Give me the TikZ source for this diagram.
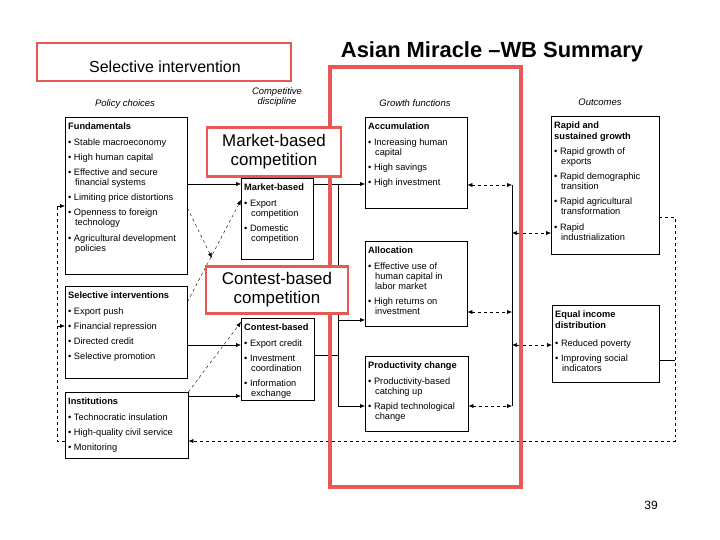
\documentclass[tikz,border=0pt]{standalone}
\usepackage{fontspec}
\setmainfont{Liberation Sans}
\usetikzlibrary{arrows.meta}
\definecolor{slidered}{RGB}{232,88,84}
\newcommand{\bul}{\textbullet\ }
\newcommand{\ind}{\hspace*{0.75em}}
\newcommand{\nx}{\\[5pt]}
\newcommand{\topbox}[3]{\parbox[t][#2][t]{#1}{#3}}
\tikzset{
  box/.style={draw, thin, anchor=north west, align=left, inner xsep=3pt, inner ysep=6pt,
    font=\fontsize{9.3}{10.2}\selectfont},
  head/.style={font=\itshape\fontsize{9.5}{10.5}\selectfont, align=center},
  overlay/.style={draw=slidered, line width=2.5pt, fill=white, align=center,
    font=\fontsize{17}{19}\selectfont},
  arr/.style={-{Latex[length=5pt,width=4pt]}},
  darr/.style={{Latex[length=5pt,width=4pt]}-{Latex[length=5pt,width=4pt]}, dashed}
}
\begin{document}
\begin{tikzpicture}[x=1bp, y=-1bp]
  \useasboundingbox (0,0) rectangle (720,540);
  % column headings
  \node[head] (hpol) at (125,104) {Policy choices};
  \node[head] (hcomp) at (277,97) {Competitive\\discipline};
  \node[head] (hgro) at (415,103) {Growth functions};
  \node[head] (hout) at (600,102) {Outcomes};
  % policy boxes
  \node[box] (fund) at (65,117) {\topbox{116bp}{145bp}{\textbf{Fundamentals}\nx
    \bul Stable macroeconomy\nx \bul High human capital\nx \bul Effective and secure\\ \ind financial systems\nx
    \bul Limiting price distortions\nx \bul Openness to foreign\\ \ind technology\nx
    \bul Agricultural development\\ \ind policies}};
  \node[box] (sel) at (65,286) {\topbox{116bp}{80bp}{\textbf{Selective interventions}\nx
    \bul Export push\nx \bul Financial repression\nx \bul Directed credit\nx \bul Selective promotion}};
  \node[box] (inst) at (65,392) {\topbox{117bp}{54bp}{\textbf{Institutions}\nx
    \bul Technocratic insulation\nx \bul High-quality civil service\nx \bul Monitoring}};
  % competitive discipline
  \node[box] (mkt) at (241,178) {\topbox{66bp}{69bp}{\textbf{Market-based}\nx
    \bul Export\\ \ind competition\nx \bul Domestic\\ \ind competition}};
  \node[box] (con) at (241,318) {\topbox{67bp}{70bp}{\textbf{Contest-based}\nx
    \bul Export credit\nx \bul Investment\\ \ind coordination\nx \bul Information\\ \ind exchange}};
  % growth functions
  \node[box] (acc) at (365,117) {\topbox{96bp}{79bp}{\textbf{Accumulation}\nx
    \bul Increasing human\\ \ind capital\nx \bul High savings\nx \bul High investment}};
  \node[box] (all) at (365,241) {\topbox{96bp}{73bp}{\textbf{Allocation}\nx
    \bul Effective use of\\ \ind human capital in\\ \ind labor market\nx \bul High returns on\\ \ind investment}};
  \node[box] (prod) at (365,356) {\topbox{97bp}{63bp}{\textbf{Productivity change}\nx
    \bul Productivity-based\\ \ind catching up\nx \bul Rapid technological\\ \ind change}};
  % outcomes
  \node[box] (rapid) at (551,116) {\topbox{102bp}{126bp}{\textbf{Rapid and}\\ \textbf{sustained growth}\nx
    \bul Rapid growth of\\ \ind exports\nx \bul Rapid demographic\\ \ind transition\nx
    \bul Rapid agricultural\\ \ind transformation\nx \bul Rapid\\ \ind industrialization}};
  \node[box] (equal) at (552,305) {\topbox{101bp}{65bp}{\textbf{Equal income}\\ \textbf{distribution}\\[8pt]
    \bul Reduced poverty\nx \bul Improving social\\ \ind indicators}};
  % connectors
  \draw[arr] (fund.east |- 0,184) -- (mkt.west |- 0,184);
  \draw[arr] (sel.east |- 0,345) -- (con.west |- 0,345);
  \draw[arr] (inst.east |- 0,396) -- (con.west |- 0,396);
  \draw[arr, dashed] (fund.east |- 0,208) -- (212,258);
  \draw[arr, dashed] (sel.east |- 0,302) -- (mkt.west |- 0,200);
  \draw[arr, dashed] (inst.east |- 0,392) -- (con.west |- 0,322);
  \coordinate (lb) at (57,441);
  \draw[arr] (lb |- 0,206) -- (fund.west |- 0,206);
  \draw[arr] (lb |- 0,326) -- (sel.west |- 0,326);
  \draw[dashed] (inst.west |- lb) -- (lb) -- (lb |- 0,206);
  \coordinate (cx) at (338,184);
  \draw (mkt.east |- cx) -- (cx) -- (cx |- 0,406);
  \draw (con.east |- 0,355) -- (cx |- 0,355);
  \draw[arr] (cx) -- (acc.west |- cx);
  \draw[arr] (cx |- 0,320) -- (all.west |- 0,320);
  \draw[arr] (cx |- 0,406) -- (prod.west |- 0,406);
  \coordinate (gx) at (512,185);
  \draw (gx) -- (gx |- 0,406);
  \draw[darr] (acc.east |- gx) -- (gx);
  \draw[darr] (all.east |- 0,312) -- (gx |- 0,312);
  \draw[darr] (prod.east |- 0,406) -- (gx |- 0,406);
  \draw[darr] (gx |- 0,233) -- (rapid.west |- 0,233);
  \draw[darr] (gx |- 0,345) -- (equal.west |- 0,345);
  \coordinate (rx) at (675,217);
  \draw (equal.east |- 0,360) -- (rx |- 0,360);
  \draw[dashed, arr] (rapid.east |- rx) -- (rx) -- (rx |- lb) -- (inst.east |- lb);
  % slide overlays
  \draw[draw=slidered, line width=4pt] (330,67) rectangle (521,487);
  \node[overlay, minimum width=254bp, minimum height=38bp] (selint) at (164,62) {};
  \node[font=\fontsize{16}{18}\selectfont] (selintt) at (165,67) {Selective intervention};
  \node[overlay, minimum width=134bp, minimum height=49bp] (mktc) at (274,152) {Market-based\\competition};
  \node[overlay, minimum width=142bp, minimum height=47bp] (conc) at (277,290) {Contest-based\\competition};
  \node[font=\bfseries\fontsize{22}{24}\selectfont] (title) at (492,52) {Asian Miracle –WB Summary};
  \node[font=\fontsize{12}{14}\selectfont] (pg) at (651,505) {39};
\end{tikzpicture}
\end{document}
